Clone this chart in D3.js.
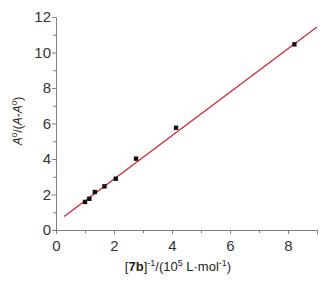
<!DOCTYPE html>
<html>
<head>
<meta charset="utf-8">
<script src="https://cdn.jsdelivr.net/npm/d3@7"></script>
<style>
  body { margin: 0; background: #fff; }
  text { font-family: "Liberation Sans", Arial, sans-serif; }
</style>
</head>
<body>
<div id="chart"></div>
<script>
// data
var pointX = [1.0, 1.15, 1.34, 1.67, 2.06, 2.76, 4.14, 8.22]
var pointY = [1.58, 1.76, 2.14, 2.46, 2.89, 4.02, 5.76, 10.46]
var fitX = [0.28, 9.0]
var fitY = [0.76, 11.44]
var xTicks = [0, 2, 4, 6, 8]
var yTicks = [0, 2, 4, 6, 8, 10, 12]

var width = 336, height = 281
var margin = {left: 56, right: 19, top: 17, bottom: 51}

var svg = d3.select("#chart").append("svg")
  .attr("width", width)
  .attr("height", height)

var x = d3.scaleLinear().domain([0, 9]).range([margin.left, width - margin.right])
var y = d3.scaleLinear().domain([0, 12]).range([height - margin.bottom, margin.top])

var axisColor = "#808080"

// x axis: major ticks labelled, minor ticks at odd values
var xAxis = svg.append("g")
  .attr("transform", "translate(0," + y(0) + ")")
  .call(d3.axisBottom(x).tickValues(d3.range(0, 10)).tickSize(4)
    .tickFormat(d => xTicks.includes(d) ? d : ""))
xAxis.selectAll(".tick line").attr("y2", d => xTicks.includes(d) ? 4 : 3)

var yAxis = svg.append("g")
  .attr("transform", "translate(" + x(0) + ",0)")
  .call(d3.axisLeft(y).tickValues(d3.range(0, 13)).tickSize(4)
    .tickFormat(d => yTicks.includes(d) ? d : ""))
yAxis.selectAll(".tick line").attr("x2", d => yTicks.includes(d) ? -4 : -3)

svg.selectAll(".domain").attr("stroke", axisColor)
svg.selectAll(".tick line").attr("stroke", axisColor)
svg.selectAll(".tick text")
  .attr("fill", "#333")
  .style("font-size", "15px")
  .style("font-family", "Liberation Sans, Arial, sans-serif")
xAxis.selectAll(".tick text").attr("dy", "0.95em")
yAxis.selectAll(".tick text").attr("x", -5)

// fitted line
svg.append("line")
  .attr("x1", x(fitX[0])).attr("y1", y(fitY[0]))
  .attr("x2", x(fitX[1])).attr("y2", y(fitY[1]))
  .attr("stroke", "#d4202c")
  .attr("stroke-width", 1.2)

// points
svg.selectAll(".pt")
  .data(pointX.map((d, i) => [d, pointY[i]]))
  .enter()
  .append("rect")
    .attr("class", "pt")
    .attr("x", d => x(d[0]) - 2.2)
    .attr("y", d => y(d[1]) - 2.2)
    .attr("width", 4.4)
    .attr("height", 4.4)
    .attr("fill", "#111")

// x label
var xl = svg.append("text")
  .attr("x", 178).attr("y", 271)
  .attr("text-anchor", "middle")
  .attr("fill", "#222")
  .style("font-size", "13px")
xl.append("tspan").text("[")
xl.append("tspan").text("7b").style("font-weight", "bold")
xl.append("tspan").text("]")
xl.append("tspan").text("-1").attr("dy", -5).style("font-size", "9px")
xl.append("tspan").text("/(10").attr("dy", 5)
xl.append("tspan").text("5").attr("dy", -5).style("font-size", "9px")
xl.append("tspan").text(" L\u00b7mol").attr("dy", 5)
xl.append("tspan").text("-1").attr("dy", -5).style("font-size", "9px")
xl.append("tspan").text(")").attr("dy", 5)

// y label
var yl = svg.append("text")
  .attr("transform", "translate(22," + 121 + ") rotate(-90)")
  .attr("text-anchor", "middle")
  .attr("fill", "#222")
  .style("font-size", "12px")
yl.append("tspan").text("A").style("font-style", "italic")
yl.append("tspan").text("0").attr("dy", -5).style("font-size", "8px")
yl.append("tspan").text("/(").attr("dy", 5)
yl.append("tspan").text("A").style("font-style", "italic")
yl.append("tspan").text("-")
yl.append("tspan").text("A").style("font-style", "italic")
yl.append("tspan").text("0").attr("dy", -5).style("font-size", "8px")
yl.append("tspan").text(")").attr("dy", 5)
</script>
</body>
</html>
